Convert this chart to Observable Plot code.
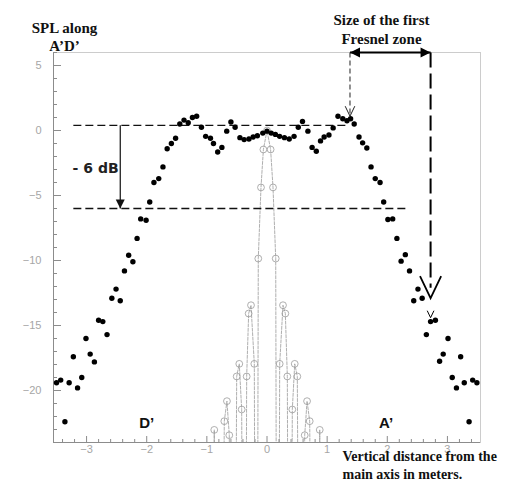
<!DOCTYPE html>
<html><head><meta charset="utf-8">
<script src="https://cdn.jsdelivr.net/npm/d3@7"></script>
<script src="https://cdn.jsdelivr.net/npm/@observablehq/plot@0.6"></script>
<style>html,body{margin:0;padding:0;background:#fff;} #chart{width:516px;height:486px;}</style>
</head><body><div id="chart"></div>
<script>
// Measured SPL along A'D' (filled dots)
const measuredX = [-3.50,-3.43,-3.36,-3.29,-3.22,-3.15,-3.08,-3.01,-2.94,-2.87,
  -2.80,-2.73,-2.66,-2.58,-2.51,-2.44,-2.37,-2.30,-2.23,-2.16,
  -2.10,-2.01,-1.95,-1.88,-1.80,-1.73,-1.66,-1.59,-1.52,-1.45,
  -1.38,-1.31,-1.24,-1.17,-1.09,-1.02,-0.94,-0.89,-0.82,-0.75,
  -0.67,-0.60,-0.53,-0.45,-0.38,-0.30,-0.23,-0.16,-0.07,0.00,
  0.07,0.14,0.21,0.29,0.37,0.45,0.52,0.59,0.68,0.75,
  0.82,0.89,0.95,1.03,1.10,1.18,1.26,1.33,1.39,1.45,
  1.53,1.59,1.66,1.73,1.80,1.88,1.94,2.01,2.09,2.16,
  2.23,2.30,2.37,2.44,2.51,2.58,2.65,2.72,2.80,2.87,
  2.93,3.01,3.08,3.15,3.22,3.28,3.36,3.42,3.49];
const measuredY = [-19.4,-19.2,-22.4,-19.4,-17.4,-19.8,-19.0,-16.0,-17.2,-17.8,
  -14.6,-14.7,-15.7,-12.9,-12.2,-13.1,-10.8,-9.6,-10.1,-8.3,
  -6.8,-6.9,-5.5,-4.0,-3.7,-2.8,-1.4,-1.0,-0.6,0.5,
  0.8,0.6,1.0,1.1,0.25,-0.45,-0.6,-1.0,-1.65,-1.3,
  -0.05,0.65,0.25,-0.55,-0.7,-0.65,-0.5,-0.4,-0.2,-0.05,
  -0.2,-0.3,-0.45,-0.55,-0.65,-0.45,0.25,0.7,-0.05,-1.3,
  -1.6,-0.8,-0.5,-0.35,0.2,1.1,0.9,0.75,0.9,0.5,
  -0.5,-0.95,-1.35,-2.8,-3.7,-4.0,-5.5,-6.85,-6.8,-8.3,
  -10.05,-9.55,-10.8,-13.1,-12.2,-12.9,-15.7,-14.7,-14.6,-17.75,
  -17.2,-16.0,-19.0,-19.8,-17.4,-19.4,-22.4,-19.2,-19.4];

// Modelled pattern (open circles, thin grey line); nulls fall far below the axis
const modelX = [-0.95,-0.877,-0.79,-0.710,-0.666,-0.627,-0.56,-0.504,-0.461,-0.421,
  -0.375,-0.338,-0.305,-0.266,-0.211,-0.175,-0.145,-0.10,-0.06,0,
  0.06,0.10,0.145,0.175,0.211,0.266,0.305,0.338,0.375,0.421,
  0.461,0.504,0.56,0.627,0.666,0.710,0.79,0.877,0.95];
const modelY = [-70,-23.03,-70,-22.36,-20.82,-23.44,-70,-18.92,-17.95,-21.46,
  -70,-18.92,-14.08,-13.44,-17.95,-70,-9.85,-4.38,-1.46,0,
  -1.46,-4.38,-9.85,-70,-17.95,-13.44,-14.08,-18.92,-70,-21.46,
  -17.95,-18.92,-70,-23.44,-20.82,-22.36,-70,-23.03,-70];

// Axes
const xDomain = [-3.55, 3.55];
const yDomain = [-24, 6];
const xMajor = [-3,-2,-1,0,1,2,3];
const xMinor = [-3.4,-3.2,-2.8,-2.6,-2.4,-2.2,-1.8,-1.6,-1.4,-1.2,-0.8,-0.6,-0.4,-0.2,0.2,0.4,0.6,0.8,1.2,1.4,1.6,1.8,2.2,2.4,2.6,2.8,3.2,3.4];
const yMajor = [-20,-15,-10,-5,0,5];
const yMinor = [-24,-23,-22,-21,-19,-18,-17,-16,-14,-13,-12,-11,-9,-8,-7,-6,-4,-3,-2,-1,1,2,3,4,6];

// Annotations (data units)
const refLevels = [{y: 0.4, x1: -3.22, x2: 1.33}, {y: -6, x1: -3.22, x2: 2.31}];
const dropArrow = [{x: -2.44, y1: 0.4, y2: -6}];
const dropLabel = [{x: -2.85, y: -2.9, t: "- 6 dB"}];
const sideLabels = [{x: -2.0, y: -22.5, t: "D’"}, {x: 1.98, y: -22.5, t: "A’"}];
const fresnelStart = 1.38, fresnelEnd = 2.72;
const fresnelStartTip = 1.1, fresnelEndTip = -12.9, pointTip = -14.4;

const measured = measuredX.map((x, i) => ({x, y: measuredY[i]}));
const model = modelX.map((x, i) => ({x, y: modelY[i]}));

const vHead = {draw(ctx, size) { const r = Math.sqrt(size / Math.PI); ctx.moveTo(-0.48 * r, -r); ctx.lineTo(0, 0); ctx.lineTo(0.48 * r, -r); }};
const triHead = {draw(ctx, size) { const r = Math.sqrt(size / Math.PI); ctx.moveTo(0, 0); ctx.lineTo(-0.5 * r, -r); ctx.lineTo(0.5 * r, -r); ctx.closePath(); }};

const axisGray = "#8c8c8c";
const labelGray = "#a6a6a6";
const modelGray = "#9a9a9a";
const serif = "Liberation Serif, Times New Roman, serif";

const chart = Plot.plot({
  width: 516, height: 486,
  marginLeft: 53, marginRight: 36, marginTop: 52, marginBottom: 44,
  x: {domain: xDomain, label: null},
  y: {domain: yDomain, label: null},
  style: {background: "white", fontFamily: "Liberation Sans, Arial, sans-serif", overflow: "visible"},
  marks: [
    Plot.frame({stroke: "#cccccc"}),
    Plot.ruleX([xDomain[0]], {stroke: axisGray}),
    Plot.ruleY([yDomain[0]], {stroke: axisGray}),
    Plot.axisY(yMinor, {tickSize: -4, stroke: axisGray, tickFormat: () => "", label: null}),
    Plot.axisY(yMajor, {tickSize: -8, stroke: axisGray, tickFormat: () => "", label: null}),
    Plot.axisY(yMajor, {tickSize: 0, tickPadding: 12, fill: labelGray, fontSize: 11, label: null}),
    Plot.axisX(xMinor, {tickSize: -3, stroke: axisGray, tickFormat: () => "", label: null}),
    Plot.axisX(xMajor, {tickSize: -6, stroke: axisGray, tickFormat: () => "", label: null}),
    Plot.axisX(xMajor, {tickSize: 0, tickPadding: 3, fill: labelGray, fontSize: 11, label: null}),

    Plot.line(model, {x: "x", y: "y", stroke: modelGray, strokeWidth: 0.8, strokeDasharray: "3,1.5", clip: true}),
    Plot.dot(model.filter(d => d.y > yDomain[0]), {x: "x", y: "y", r: 3.4, stroke: modelGray, strokeWidth: 0.8, fill: "none"}),

    Plot.link(refLevels, {x1: "x1", x2: "x2", y1: "y", y2: "y", stroke: "#111", strokeWidth: 1.3, strokeDasharray: "8,4"}),
    Plot.link(dropArrow, {x1: "x", x2: "x", y1: "y1", y2: "y2", stroke: "#111", strokeWidth: 1.2}),
    Plot.dot(dropArrow, {x: "x", y: "y2", symbol: triHead, r: 9, fill: "#111", stroke: "none"}),
    Plot.text(dropLabel, {x: "x", y: "y", text: "t", fontSize: 14, fontWeight: "bold", fill: "#222", fontFamily: "DejaVu Sans, sans-serif"}),
    Plot.text(sideLabels, {x: "x", y: "y", text: "t", fontSize: 15, fontWeight: "bold", fill: "#111"}),

    Plot.dot(measured, {x: "x", y: "y", r: 2.7, fill: "#000"}),

    // Fresnel zone markers
    Plot.link([{x1: fresnelStart, x2: fresnelEnd, y: yDomain[1]}], {x1: "x1", x2: "x2", y1: "y", y2: "y", stroke: "#000", strokeWidth: 2.2}),
    Plot.dot([{x: fresnelStart, y: yDomain[1]}], {x: "x", y: "y", symbol: triHead, r: 10, rotate: 90, fill: "#000", stroke: "none"}),
    Plot.dot([{x: fresnelEnd, y: yDomain[1]}], {x: "x", y: "y", symbol: triHead, r: 10, rotate: -90, fill: "#000", stroke: "none"}),
    Plot.link([{x: fresnelStart, y1: yDomain[1], y2: fresnelStartTip}], {x1: "x", x2: "x", y1: "y1", y2: "y2", stroke: "#222", strokeWidth: 1, strokeDasharray: "5,3"}),
    Plot.dot([{x: fresnelStart, y: fresnelStartTip}], {x: "x", y: "y", symbol: vHead, r: 10, fill: "none", stroke: "#222", strokeWidth: 1}),
    Plot.link([{x: fresnelEnd, y1: yDomain[1], y2: fresnelEndTip + 0.8}], {x1: "x", x2: "x", y1: "y1", y2: "y2", stroke: "#000", strokeWidth: 2, strokeDasharray: "15,6"}),
    Plot.dot([{x: fresnelEnd, y: fresnelEndTip}], {x: "x", y: "y", symbol: vHead, r: 22, fill: "none", stroke: "#000", strokeWidth: 1.8}),
    Plot.dot([{x: fresnelEnd, y: pointTip}], {x: "x", y: "y", symbol: vHead, r: 7, fill: "none", stroke: "#000", strokeWidth: 1}),

    // Outer text
    Plot.text(["SPL along\nA’D’"], {text: d => d, frameAnchor: "top-left", dx: 11, dy: -16, textAnchor: "middle", lineAnchor: "middle", lineHeight: 1.2, fontSize: 15, fontWeight: "bold", fontFamily: serif, fill: "#111"}),
    Plot.text(["Size of the first\nFresnel zone"], {text: d => d, frameAnchor: "top-right", dx: -99, dy: -24.5, textAnchor: "middle", lineAnchor: "middle", lineHeight: 1.27, fontSize: 15, fontWeight: "bold", fontFamily: serif, fill: "#111"}),
    Plot.text(["Vertical distance from the\nmain axis in meters."], {text: d => d, frameAnchor: "bottom-right", dx: -138, dy: 22, textAnchor: "start", lineAnchor: "middle", lineHeight: 1.25, fontSize: 14, fontWeight: "bold", fontFamily: serif, fill: "#111"})
  ]
});
document.getElementById("chart").appendChild(chart);
</script>
</body></html>
